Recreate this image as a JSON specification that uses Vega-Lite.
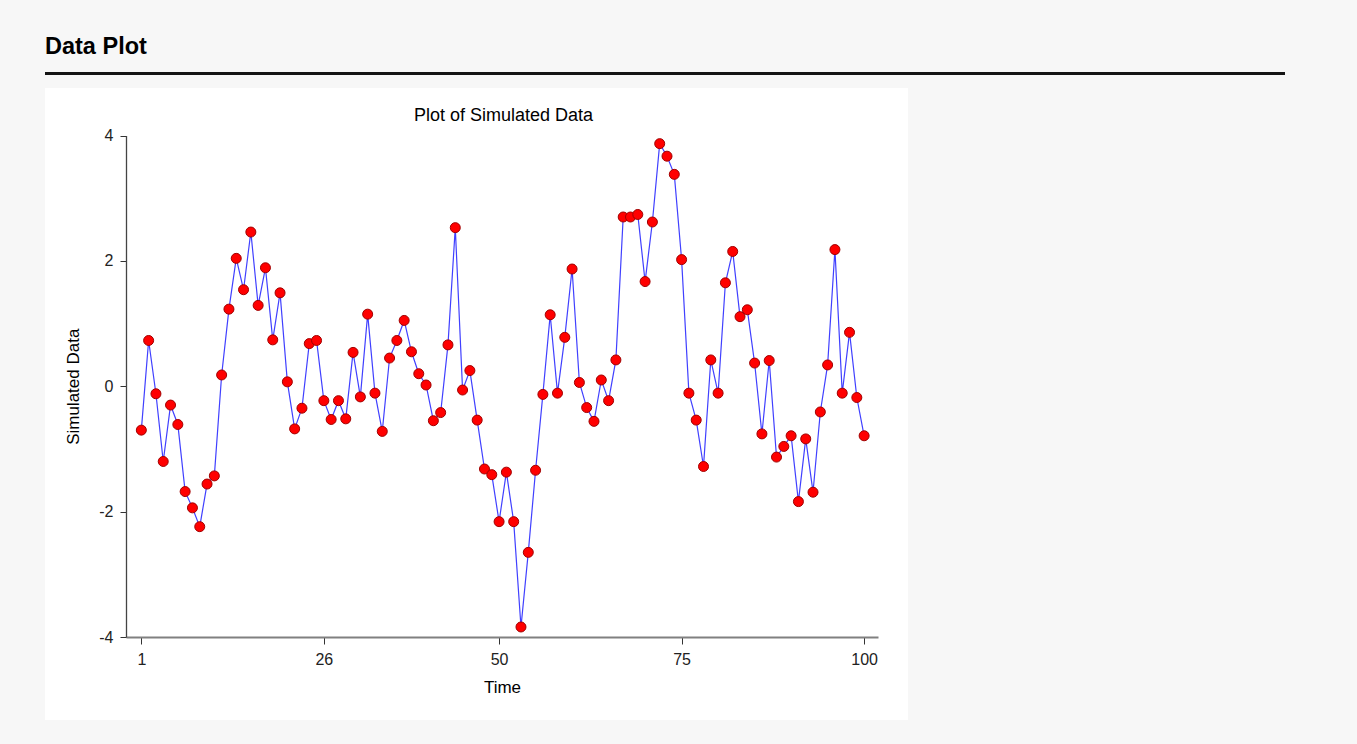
{
  "$schema": "https://vega.github.io/schema/vega-lite/v6.json",
  "background": "#f7f7f7",
  "padding": {"left": 45, "top": 34, "right": 72, "bottom": 24},
  "title": {"text": "Data Plot", "anchor": "start", "fontSize": 23.5, "fontWeight": "bold", "font": "Liberation Sans", "color": "#000000", "baseline": "top", "offset": 9.5},
  "config": {"font": "Liberation Sans", "view": {"stroke": null}},
  "spacing": 9,
  "vconcat": [
    {
      "width": 1240,
      "height": 3,
      "view": {"fill": "#141414", "stroke": null},
      "data": {"values": [{}]},
      "mark": {"type": "text", "text": ""}
    },
    {
      "width": 863,
      "height": 632,
      "view": {"fill": "#ffffff", "stroke": null},
      "title": {"text": "Plot of Simulated Data", "fontSize": 18, "fontWeight": "normal", "anchor": "middle", "dx": 27, "offset": -51, "baseline": "alphabetic", "color": "#000000", "font": "Liberation Sans"},
      "data": {"values": [
        {"t":1,"v":-0.70},{"t":2,"v":0.73},{"t":3,"v":-0.12},{"t":4,"v":-1.20},{"t":5,"v":-0.30},
        {"t":6,"v":-0.61},{"t":7,"v":-1.68},{"t":8,"v":-1.94},{"t":9,"v":-2.24},{"t":10,"v":-1.56},
        {"t":11,"v":-1.43},{"t":12,"v":0.18},{"t":13,"v":1.23},{"t":14,"v":2.04},{"t":15,"v":1.54},
        {"t":16,"v":2.46},{"t":17,"v":1.29},{"t":18,"v":1.89},{"t":19,"v":0.74},{"t":20,"v":1.49},
        {"t":21,"v":0.07},{"t":22,"v":-0.68},{"t":23,"v":-0.35},{"t":24,"v":0.68},{"t":25,"v":0.73},
        {"t":26,"v":-0.23},{"t":27,"v":-0.53},{"t":28,"v":-0.23},{"t":29,"v":-0.52},{"t":30,"v":0.54},
        {"t":31,"v":-0.17},{"t":32,"v":1.15},{"t":33,"v":-0.11},{"t":34,"v":-0.72},{"t":35,"v":0.45},
        {"t":36,"v":0.73},{"t":37,"v":1.05},{"t":38,"v":0.55},{"t":39,"v":0.20},{"t":40,"v":0.02},
        {"t":41,"v":-0.55},{"t":42,"v":-0.42},{"t":43,"v":0.66},{"t":44,"v":2.53},{"t":45,"v":-0.06},
        {"t":46,"v":0.25},{"t":47,"v":-0.54},{"t":48,"v":-1.32},{"t":49,"v":-1.41},{"t":50,"v":-2.16},
        {"t":51,"v":-1.37},{"t":52,"v":-2.16},{"t":53,"v":-3.84},{"t":54,"v":-2.65},{"t":55,"v":-1.34},
        {"t":56,"v":-0.13},{"t":57,"v":1.14},{"t":58,"v":-0.11},{"t":59,"v":0.78},{"t":60,"v":1.87},
        {"t":61,"v":0.06},{"t":62,"v":-0.34},{"t":63,"v":-0.56},{"t":64,"v":0.10},{"t":65,"v":-0.23},
        {"t":66,"v":0.42},{"t":67,"v":2.70},{"t":68,"v":2.70},{"t":69,"v":2.74},{"t":70,"v":1.67},
        {"t":71,"v":2.62},{"t":72,"v":3.87},{"t":73,"v":3.67},{"t":74,"v":3.38},{"t":75,"v":2.02},
        {"t":76,"v":-0.11},{"t":77,"v":-0.54},{"t":78,"v":-1.28},{"t":79,"v":0.42},{"t":80,"v":-0.11},
        {"t":81,"v":1.65},{"t":82,"v":2.15},{"t":83,"v":1.11},{"t":84,"v":1.22},{"t":85,"v":0.37},
        {"t":86,"v":-0.76},{"t":87,"v":0.41},{"t":88,"v":-1.13},{"t":89,"v":-0.96},{"t":90,"v":-0.79},
        {"t":91,"v":-1.84},{"t":92,"v":-0.84},{"t":93,"v":-1.69},{"t":94,"v":-0.41},{"t":95,"v":0.34},
        {"t":96,"v":2.18},{"t":97,"v":-0.11},{"t":98,"v":0.86},{"t":99,"v":-0.18},{"t":100,"v":-0.79}
      ]},
      "encoding": {
        "x": {
          "field": "t", "type": "quantitative",
          "scale": {"domain": [-1.1, 101.9], "range": [81, 833], "nice": false, "zero": false},
          "axis": {
            "orient": "bottom", "offset": -83, "values": [1, 26, 50, 75, 100],
            "title": "Time", "titleFontSize": 17, "titleFontWeight": "normal", "titlePadding": 12, "titleColor": "#000000",
            "labelFontSize": 16, "labelPadding": 7, "labelColor": "#222222", "labelFlush": false, "labelOverlap": false,
            "tickSize": 7, "tickColor": "#333333", "domainColor": "#808080", "domainWidth": 2, "grid": false
          }
        },
        "y": {
          "field": "v", "type": "quantitative",
          "scale": {"domain": [-4, 4], "range": [549, 47.5], "nice": false, "zero": false},
          "axis": {
            "orient": "left", "offset": -81, "values": [-4, -2, 0, 2, 4],
            "labelExpr": "datum.value < 0 ? '-' + (-datum.value) : '' + datum.value",
            "title": "Simulated Data", "titleFontSize": 17, "titleFontWeight": "normal", "titlePadding": 16, "titleColor": "#000000",
            "labelFontSize": 16, "labelPadding": 7, "labelColor": "#222222", "labelFlush": false, "labelOverlap": false,
            "tickSize": 6, "tickColor": "#333333", "domainColor": "#444444", "domainWidth": 1.3, "grid": false
          }
        }
      },
      "layer": [
        {"mark": {"type": "line", "color": "#4040ff", "strokeWidth": 1.2}},
        {"mark": {"type": "point", "shape": "circle", "filled": true, "fill": "#ff0000", "stroke": "#a00000", "strokeWidth": 1, "size": 100, "opacity": 1}}
      ]
    }
  ]
}
